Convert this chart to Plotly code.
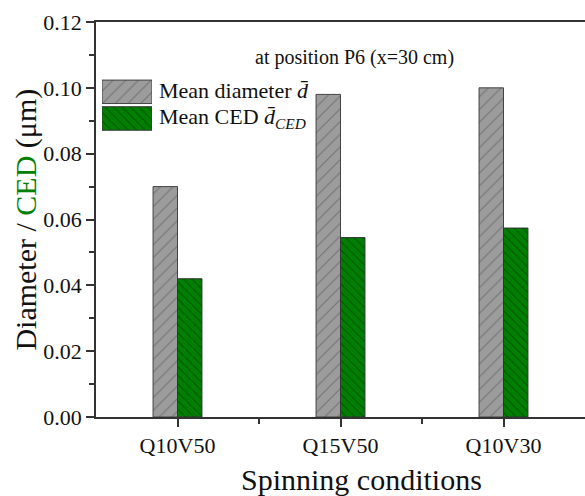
import plotly.graph_objects as go

categories = ["Q10V50", "Q15V50", "Q10V30"]
mean_diameter = [0.070, 0.098, 0.100]
mean_ced = [0.042, 0.0545, 0.0574]
y_ticks = [0.00, 0.02, 0.04, 0.06, 0.08, 0.10, 0.12]

FONT = "Liberation Serif, Times New Roman, serif"
GRAY = "#9c9c9c"
GREEN = "#008000"
AX = "#333333"

xpos = list(range(len(categories)))

gray_marker = dict(color=GRAY, line=dict(color="#444444", width=1),
                   pattern=dict(shape="/", fgcolor="#4a4a4a", size=9, solidity=0.12, fillmode="overlay"))
green_marker = dict(color=GREEN, line=dict(color="#333333", width=1),
                    pattern=dict(shape="\\", fgcolor="#003300", size=6, solidity=0.2, fillmode="overlay"))

fig = go.Figure()
fig.add_trace(go.Bar(x=xpos, y=mean_diameter, name="Mean diameter", marker=gray_marker, showlegend=False))
fig.add_trace(go.Bar(x=xpos, y=mean_ced, name="Mean CED", marker=green_marker, showlegend=False))

# legend swatches on an inset axis
fig.add_trace(go.Bar(y=[1], x=[1], orientation="h", xaxis="x2", yaxis="y2", width=0.88,
                     marker=gray_marker, showlegend=False, hoverinfo="skip"))
fig.add_trace(go.Bar(y=[0], x=[1], orientation="h", xaxis="x2", yaxis="y2", width=0.88,
                     marker=green_marker, showlegend=False, hoverinfo="skip"))

fig.update_layout(
    width=585, height=496,
    margin=dict(l=96, r=0, t=22, b=79),
    paper_bgcolor="white", plot_bgcolor="white",
    barmode="group", bargap=0.7, bargroupgap=0,
    font=dict(family=FONT, size=22, color="#111111"),
    xaxis=dict(
        range=[-0.5, 2.5], tickvals=xpos, ticktext=categories,
        ticks="outside", ticklen=8, tickwidth=1.5, tickcolor=AX,
        showline=True, linecolor=AX, linewidth=1.5, mirror=True,
        showgrid=False, zeroline=False,
        minor=dict(tickvals=[0.5, 1.5], ticks="outside", ticklen=5, tickwidth=1.5, tickcolor=AX),
        tickfont=dict(family=FONT, size=22),
    ),
    yaxis=dict(
        range=[0, 0.12], tickvals=y_ticks, ticktext=[f"{v:.2f}" for v in y_ticks],
        ticks="outside", ticklen=8, tickwidth=1.5, tickcolor=AX,
        showline=True, linecolor=AX, linewidth=1.5, mirror=False,
        showgrid=False, zeroline=False,
        minor=dict(dtick=0.01, tick0=0, ticks="outside", ticklen=5, tickwidth=1.5, tickcolor=AX),
        tickfont=dict(family=FONT, size=22),
    ),
    xaxis2=dict(domain=[0.0123, 0.1145], range=[0, 1], visible=False, fixedrange=True),
    yaxis2=dict(domain=[0.722, 0.857], range=[-0.5, 1.5], visible=False, fixedrange=True, anchor="x2"),
    annotations=[
        dict(text="Spinning conditions", x=0.542, y=-0.157, xref="paper", yref="paper",
             xanchor="center", yanchor="middle", showarrow=False, font=dict(family=FONT, size=30)),
        dict(text="Diameter / <span style='color:#008000'>CED</span> (μm)", textangle=-90,
             x=-0.145, y=0.5, xref="paper", yref="paper",
             xanchor="center", yanchor="middle", showarrow=False, font=dict(family=FONT, size=30)),
        dict(text="at position P6 (x=30 cm)", x=0.528, y=0.911, xref="paper", yref="paper",
             xanchor="center", yanchor="middle", showarrow=False, font=dict(family=FONT, size=20)),
        dict(text="Mean diameter <i>d̄</i>", x=0.125, y=0.826, xref="paper", yref="paper",
             xanchor="left", yanchor="middle", showarrow=False, font=dict(family=FONT, size=22)),
        dict(text="Mean CED <i>d̄</i><sub><i>CED</i></sub>", x=0.125, y=0.757, xref="paper", yref="paper",
             xanchor="left", yanchor="middle", showarrow=False, font=dict(family=FONT, size=22)),
    ],
)

fig.write_html("out.html")
